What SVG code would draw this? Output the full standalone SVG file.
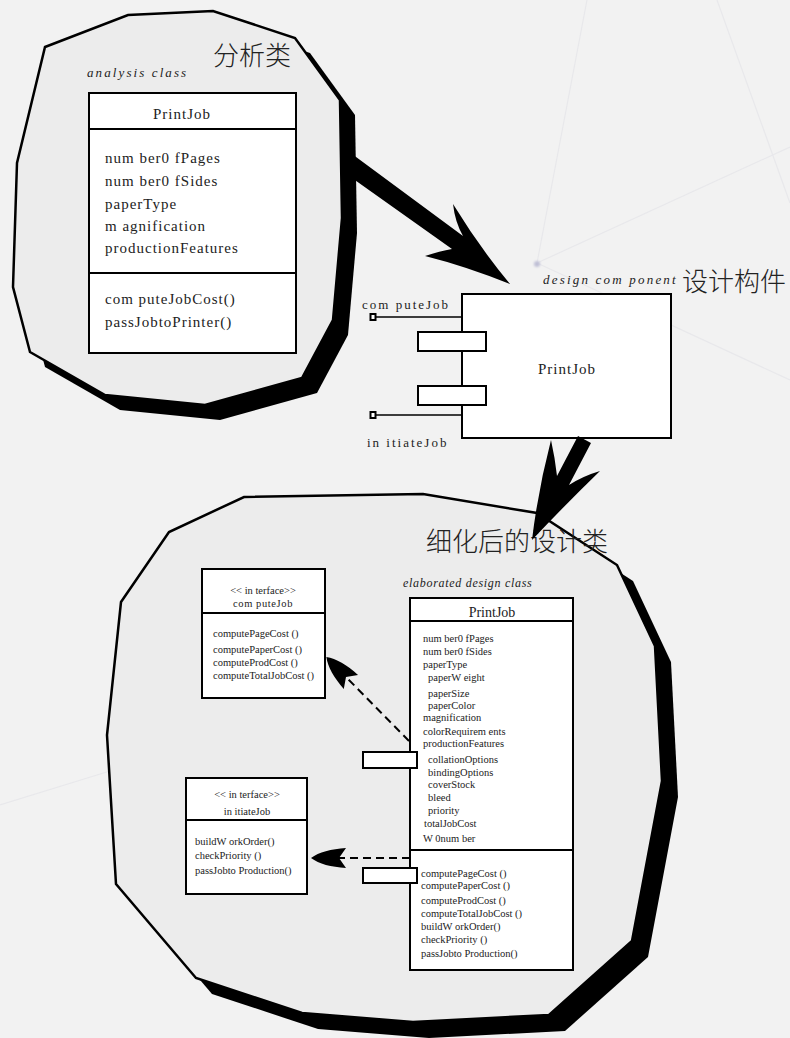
<svg xmlns="http://www.w3.org/2000/svg" width="790" height="1038" viewBox="0 0 790 1038">
  <defs>
    <style>
      .bg-line { stroke: #e8e8eb; stroke-width: 1.2; fill: none; }
      .blob { fill: #ececec; stroke: #000; stroke-width: 2.5; stroke-linejoin: miter; }
      .shadow { fill: #000; }
      .box { fill: #fff; stroke: #000; stroke-width: 2; }
      .rule { stroke: #000; stroke-width: 2; }
      .thin { stroke: #000; stroke-width: 1.5; }
      .dash { stroke: #000; stroke-width: 2; stroke-dasharray: 8 5; fill: none; }
      .t { font-family: "Liberation Serif", "Noto Sans CJK SC", serif; fill: #222; }
      .big { font-size: 15px; letter-spacing: 1px; }
      .mid { font-size: 13px; letter-spacing: 2px; }
      .sm { font-size: 10.5px; }
      .it { font-style: italic; }
      .cjk { font-family: "Noto Sans CJK SC", "Noto Sans CJK JP", sans-serif; font-size: 26px; fill: #222; font-weight: 300; }
    </style>
    <marker id="open-head" markerUnits="userSpaceOnUse" markerWidth="44" markerHeight="26" viewBox="-10 -13 44 26" refX="0" refY="0" orient="auto">
      <path d="M28,0 C20,-6 8,-9 -7,-10 L0,0 L-7,10 C8,9 20,6 28,0 Z" fill="#000"/>
    </marker>
    <filter id="soft" x="-2" y="-2" width="5" height="5">
      <feGaussianBlur stdDeviation="1.2"/>
    </filter>
  </defs>

  <!-- page background with faint network lines -->
  <rect x="0" y="0" width="790" height="1038" fill="#f2f2f2"/>
  <g id="backdrop">
    <line class="bg-line" x1="537" y1="263" x2="587" y2="0"/>
    <line class="bg-line" x1="537" y1="263" x2="790" y2="147"/>
    <line class="bg-line" x1="717" y1="0" x2="790" y2="203"/>
    <line class="bg-line" x1="537" y1="263" x2="790" y2="380"/>
    <line class="bg-line" x1="0" y1="805" x2="110" y2="771"/>
    <circle cx="537" cy="264" r="3" fill="#c0c0d6" filter="url(#soft)"/>
  </g>

  <!-- analysis class region -->
  <g id="analysis-region">
    <polygon class="shadow" transform="translate(15,15)" points="45,47 128,15 213,11 295,38 340,100 342,218 333,320 302,378 205,405 105,395 30,352 13,287 17,163"/>
    <polygon class="blob" points="45,47 128,15 213,11 295,38 340,100 342,218 333,320 302,378 205,405 105,395 30,352 13,287 17,163"/>
    <text class="cjk" x="213" y="65">分析类</text>
    <text class="t it mid" x="87" y="77" style="letter-spacing:2.1px">analysis class</text>
  </g>

  <g id="analysis-class">
    <rect class="box" x="89" y="93" width="207" height="260"/>
    <line class="rule" x1="89" y1="129" x2="296" y2="129"/>
    <line class="rule" x1="89" y1="273" x2="296" y2="273"/>
    <text class="t big" x="182" y="119" text-anchor="middle">PrintJob</text>
    <text class="t big" x="105" y="163">num ber0 fPages</text>
    <text class="t big" x="105" y="186">num ber0 fSides</text>
    <text class="t big" x="105" y="209">paperType</text>
    <text class="t big" x="105" y="231">m agnification</text>
    <text class="t big" x="105" y="253">productionFeatures</text>
    <text class="t big" x="105" y="304">com puteJobCost()</text>
    <text class="t big" x="105" y="327">passJobtoPrinter()</text>
  </g>

  <!-- design component -->
  <g id="design-component">
    <text class="t it mid" x="543" y="284" style="letter-spacing:2.2px">design com ponent</text>
    <text class="cjk" x="682" y="291">设计构件</text>
    <rect class="box" x="462" y="294" width="209" height="144"/>
    <rect class="box" x="418" y="332" width="68" height="19"/>
    <rect class="box" x="418" y="386" width="68" height="19"/>
    <line class="thin" x1="376" y1="317" x2="462" y2="317"/>
    <line class="thin" x1="376" y1="415" x2="462" y2="415"/>
    <rect x="370.5" y="314" width="5" height="6" fill="#fff" stroke="#000" stroke-width="2"/>
    <rect x="370.5" y="412" width="5" height="6" fill="#fff" stroke="#000" stroke-width="2"/>
    <text class="t big" x="567" y="374" text-anchor="middle">PrintJob</text>
    <text class="t mid" x="362" y="309">com puteJob</text>
    <text class="t mid" x="367" y="447">in itiateJob</text>
  </g>

  <!-- elaborated design class region -->
  <g id="elaborated-region">
    <polygon class="shadow" transform="translate(16,16)" points="244,497 423,494 537,513 617,565 655,646 662,781 632,941 549,1015 413,1022 302,1013 196,978 116,884 107,735 121,602 169,532"/>
    <polygon class="blob" points="244,497 423,494 537,513 617,565 655,646 662,781 632,941 549,1015 413,1022 302,1013 196,978 116,884 107,735 121,602 169,532"/>
    <text class="cjk" x="426" y="551">细化后的设计类</text>
    <text class="t it" x="403" y="587" style="font-size:12px;letter-spacing:0.7px">elaborated design class</text>
  </g>

  <g id="interface-computeJob">
    <rect class="box" x="202" y="569" width="123" height="129"/>
    <line class="rule" x1="202" y1="613" x2="325" y2="613"/>
    <text class="t sm" x="263" y="594" text-anchor="middle">&lt;&lt; in terface&gt;&gt;</text>
    <text class="t sm" x="263" y="607" text-anchor="middle" style="letter-spacing:0.6px">com puteJob</text>
    <text class="t sm" x="213" y="637">computePageCost  ()</text>
    <text class="t sm" x="213" y="653">computePaperCost ()</text>
    <text class="t sm" x="213" y="666">computeProdCost ()</text>
    <text class="t sm" x="213" y="679">computeTotalJobCost  ()</text>
  </g>

  <g id="interface-initiateJob">
    <rect class="box" x="186" y="778" width="121" height="116"/>
    <line class="rule" x1="186" y1="820" x2="307" y2="820"/>
    <text class="t sm" x="247" y="798" text-anchor="middle">&lt;&lt; in terface&gt;&gt;</text>
    <text class="t sm" x="247" y="815" text-anchor="middle">in itiateJob</text>
    <text class="t sm" x="195" y="845">buildW orkOrder()</text>
    <text class="t sm" x="195" y="859">checkPriority ()</text>
    <text class="t sm" x="195" y="874">passJobto  Production()</text>
  </g>

  <g id="elaborated-class">
    <rect class="box" x="410" y="598" width="163" height="372"/>
    <line class="rule" x1="410" y1="621" x2="573" y2="621"/>
    <line class="rule" x1="410" y1="850" x2="573" y2="850"/>
    <text class="t" x="492" y="617" text-anchor="middle" style="font-size:14px">PrintJob</text>
    <text class="t sm" x="423" y="642">num ber0 fPages</text>
    <text class="t sm" x="423" y="655">num ber0 fSides</text>
    <text class="t sm" x="423" y="668">paperType</text>
    <text class="t sm" x="428" y="681">paperW eight</text>
    <text class="t sm" x="428" y="697">paperSize</text>
    <text class="t sm" x="428" y="709">paperColor</text>
    <text class="t sm" x="423" y="721">magnification</text>
    <text class="t sm" x="423" y="735">colorRequirem ents</text>
    <text class="t sm" x="423" y="747">productionFeatures</text>
    <text class="t sm" x="428" y="763">collationOptions</text>
    <text class="t sm" x="428" y="776">bindingOptions</text>
    <text class="t sm" x="428" y="788">coverStock</text>
    <text class="t sm" x="428" y="801">bleed</text>
    <text class="t sm" x="428" y="814">priority</text>
    <text class="t sm" x="424" y="827">totalJobCost</text>
    <text class="t sm" x="423" y="842">W 0num ber</text>
    <text class="t sm" x="421" y="877">computePageCost  ()</text>
    <text class="t sm" x="421" y="889">computePaperCost  ()</text>
    <text class="t sm" x="421" y="904">computeProdCost  ()</text>
    <text class="t sm" x="421" y="917">computeTotalJobCost  ()</text>
    <text class="t sm" x="421" y="930">buildW orkOrder()</text>
    <text class="t sm" x="421" y="943">checkPriority ()</text>
    <text class="t sm" x="421" y="957">passJobto  Production()</text>
    <rect class="box" x="363" y="752" width="54" height="16"/>
    <rect class="box" x="363" y="868" width="54" height="15"/>
  </g>

  <!-- connectors -->
  <g id="connectors">
    <!-- analysis class to design component -->
    <path d="M352,154 L463,236 Q455,222 453,204 Q480,248 510,284 Q465,266 425,256 Q440,251 452,249 L352,178 Z" fill="#000"/>
    <!-- design component to elaborated design class -->
    <path d="M578,436 L591,443 L569,485 Q583,476 600,471 Q565,505 532,540 Q538,490 551,440 Q555,458 557,476 Z" fill="#000"/>
    <!-- realisation of the interfaces -->
    <line class="dash" x1="409" y1="741" x2="346" y2="677" marker-end="url(#open-head)"/>
    <line class="dash" x1="410" y1="858" x2="339" y2="858" marker-end="url(#open-head)"/>
  </g>
</svg>
